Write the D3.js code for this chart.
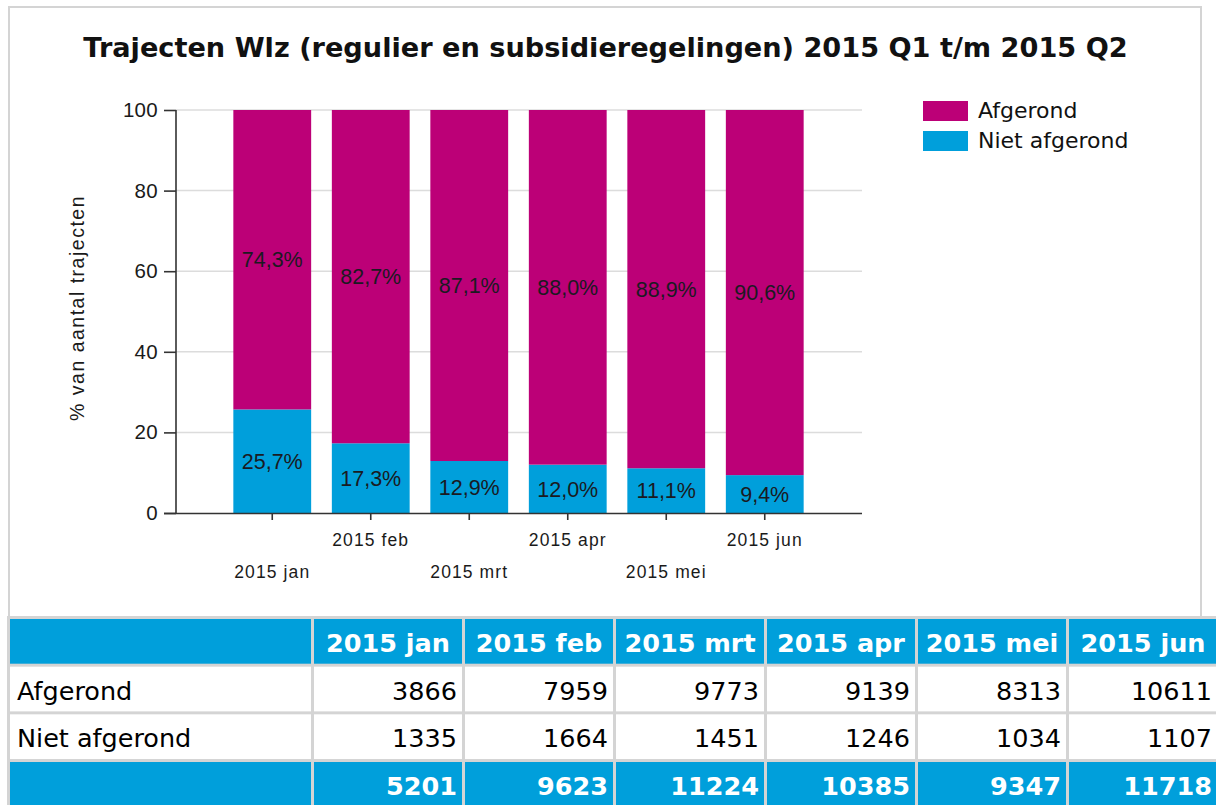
<!DOCTYPE html>
<html>
<head>
<meta charset="utf-8">
<script src="https://cdn.jsdelivr.net/npm/d3@7"></script>
<style>
  html, body { margin: 0; padding: 0; background: #fff; }
  svg { display: block; }
</style>
</head>
<body>
<svg id="chart" width="1216" height="805"></svg>
<script>
// ---- data ----
const title = "Trajecten Wlz (regulier en subsidieregelingen) 2015 Q1 t/m 2015 Q2";
const months = ["2015 jan", "2015 feb", "2015 mrt", "2015 apr", "2015 mei", "2015 jun"];
const seriesNames = ["Afgerond", "Niet afgerond"];
const pctAfgerond = [74.3, 82.7, 87.1, 88.0, 88.9, 90.6];
const pctNietAfgerond = [25.7, 17.3, 12.9, 12.0, 11.1, 9.4];
const countAfgerond = [3866, 7959, 9773, 9139, 8313, 10611];
const countNietAfgerond = [1335, 1664, 1451, 1246, 1034, 1107];
const countTotal = [5201, 9623, 11224, 10385, 9347, 11718];
const yTicks = [0, 20, 40, 60, 80, 100];
const yLabel = "% van aantal trajecten";

const colAf = "#BC0077", colNiet = "#009FDB";
const svg = d3.select("#chart");

// frame
svg.append("rect").attr("x", 9).attr("y", 7).attr("width", 1192).attr("height", 610)
  .attr("fill", "#fff").attr("stroke", "#d4d4d4").attr("stroke-width", 2);

// title, fitted to width
const t = svg.append("text").text(title)
  .attr("x", 605.5).attr("y", 57).attr("text-anchor", "middle")
  .attr("font-family", "DejaVu Sans").attr("font-weight", "bold")
  .attr("font-size", 20).attr("fill", "#111");
const tw = t.node().getComputedTextLength();
t.attr("font-size", 20 * 1045 / tw);

// scales
const y = d3.scaleLinear().domain([0, 100]).range([513, 110]);
const x = d3.scaleBand().domain(months).range([223, 814]).paddingInner(0.21).paddingOuter(0.105);
const axisL = 176, axisR = 862;

// gridlines
svg.append("g").selectAll("line").data(yTicks.filter(d => d > 0)).join("line")
  .attr("x1", axisL).attr("x2", axisR).attr("y1", d => y(d)).attr("y2", d => y(d))
  .attr("stroke", "#dcdcdc").attr("stroke-width", 1.5);

// bars
const rows = months.map((m, i) => ({ m, af: pctAfgerond[i], niet: pctNietAfgerond[i] }));
const g = svg.append("g");
g.selectAll("rect.niet").data(rows).join("rect").attr("class", "niet")
  .attr("x", d => x(d.m)).attr("width", x.bandwidth())
  .attr("y", d => y(d.niet)).attr("height", d => y(0) - y(d.niet)).attr("fill", colNiet);
g.selectAll("rect.af").data(rows).join("rect").attr("class", "af")
  .attr("x", d => x(d.m)).attr("width", x.bandwidth())
  .attr("y", d => y(100)).attr("height", d => y(d.niet) - y(100)).attr("fill", colAf);

const fmt = v => v.toFixed(1).replace(".", ",") + "%";
g.selectAll("text.lblaf").data(rows).join("text")
  .attr("x", d => x(d.m) + x.bandwidth() / 2).attr("y", d => y(d.niet + d.af / 2))
  .attr("dy", "0.36em").attr("text-anchor", "middle")
  .attr("font-family", "Liberation Sans, Arial").attr("font-size", 21.5).attr("fill", "#1a1a22")
  .text(d => fmt(d.af));
g.selectAll("text.lblniet").data(rows).join("text")
  .attr("x", d => x(d.m) + x.bandwidth() / 2).attr("y", d => y(d.niet / 2))
  .attr("dy", "0.36em").attr("text-anchor", "middle")
  .attr("font-family", "Liberation Sans, Arial").attr("font-size", 21.5).attr("fill", "#1a1a22")
  .text(d => fmt(d.niet));

// y axis
const ya = svg.append("g").attr("transform", `translate(${axisL},0)`)
  .call(d3.axisLeft(y).tickValues(yTicks).tickSize(12).tickPadding(6).tickFormat(d3.format("d")));
ya.select(".domain").attr("d", `M0,${y(100)}V${y(0)}`).attr("stroke", "#333").attr("stroke-width", 1.6);
ya.selectAll(".tick line").attr("stroke", "#333").attr("stroke-width", 1.6);
ya.selectAll(".tick text").attr("font-family", "Liberation Sans, Arial").attr("font-size", 20.5)
  .attr("letter-spacing", 0.3).attr("fill", "#1a1a1a");

// x axis
const xa = svg.append("g").attr("transform", `translate(0,${y(0)})`)
  .call(d3.axisBottom(x).tickSize(7).tickFormat(""));
xa.select(".domain").attr("d", `M${axisL - 12},0.5H${axisR}`).attr("stroke", "#333").attr("stroke-width", 1.6);
xa.selectAll(".tick line").attr("stroke", "#333").attr("stroke-width", 1.6);
svg.append("g").selectAll("text").data(months).join("text")
  .attr("x", d => x(d) + x.bandwidth() / 2)
  .attr("y", (d, i) => i % 2 === 0 ? 578 : 546)
  .attr("text-anchor", "middle")
  .attr("font-family", "Liberation Sans, Arial").attr("font-size", 17.5).attr("letter-spacing", 1.1)
  .attr("fill", "#1a1a1a").text(d => d);

// y label
svg.append("text").text(yLabel)
  .attr("transform", "translate(84,308) rotate(-90)").attr("text-anchor", "middle")
  .attr("font-family", "Liberation Sans, Arial").attr("font-size", 19.5).attr("letter-spacing", 1.5)
  .attr("fill", "#1a1a1a");

// legend
const lg = svg.append("g").selectAll("g").data(seriesNames).join("g")
  .attr("transform", (d, i) => `translate(923,${101 + i * 30})`);
lg.append("rect").attr("width", 45).attr("height", 20).attr("fill", (d, i) => i === 0 ? colAf : colNiet);
lg.append("text").attr("x", 55).attr("y", 17).text(d => d)
  .attr("font-family", "DejaVu Sans").attr("font-size", 22).attr("fill", "#111");

// table
const tbl = svg.append("g");
tbl.append("rect").attr("x", 7).attr("y", 616).attr("width", 1209).attr("height", 189).attr("fill", "#d4d4d4");
const colX = i => i === 0 ? 10 : 314 + (i - 1) * 151;
const colW = i => i === 0 ? 301 : 148;
const rowY = r => 619 + r * 47.67;
const rowH = 44.7;
const tableRows = [
  { label: "", vals: months, head: true },
  { label: seriesNames[0], vals: countAfgerond, head: false },
  { label: seriesNames[1], vals: countNietAfgerond, head: false },
  { label: "", vals: countTotal, head: true, total: true }
];
tableRows.forEach((row, r) => {
  for (let c = 0; c < 7; c++) {
    tbl.append("rect").attr("x", colX(c)).attr("y", rowY(r)).attr("width", colW(c)).attr("height", rowH)
      .attr("fill", row.head ? colNiet : "#fff");
  }
  if (row.label) {
    tbl.append("text").attr("x", 17).attr("y", rowY(r) + 33).text(row.label)
      .attr("font-family", "DejaVu Sans").attr("font-size", 25.5).attr("fill", "#000");
  }
  row.vals.forEach((v, i) => {
    const c = i + 1;
    const txt = tbl.append("text").attr("y", rowY(r) + 33).text(v)
      .attr("font-family", "DejaVu Sans").attr("font-size", 25.5)
      .attr("font-weight", row.head ? "bold" : "normal")
      .attr("fill", row.head ? "#fff" : "#000");
    if (r === 0) txt.attr("x", colX(c) + colW(c) / 2).attr("text-anchor", "middle");
    else txt.attr("x", colX(c) + colW(c) - 5).attr("text-anchor", "end");
  });
});
</script>
</body>
</html>
